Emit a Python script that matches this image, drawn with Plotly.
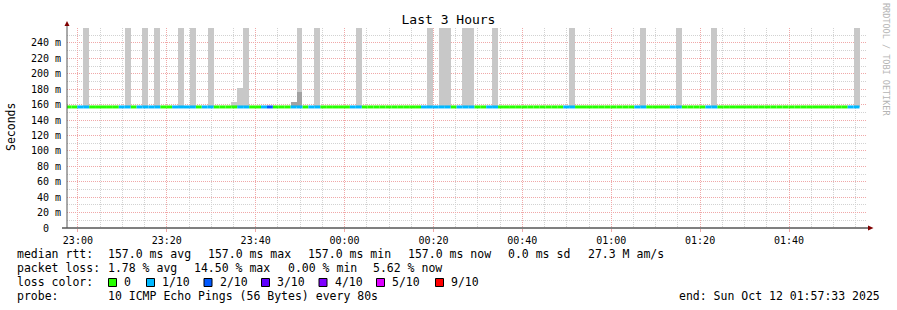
import plotly.graph_objects as go
from datetime import datetime, timedelta

# ---------------- data ----------------
TITLE = "Last 3 Hours"
Y_LABEL = "Seconds"
WATERMARK = "RRDTOOL / TOBI OETIKER"
RANGE_START = "2025-10-11 22:57:33"
RANGE_END = "2025-10-12 01:57:33"
FIRST_STEP = "2025-10-11 22:57:12"   # start of the first 80 s step
STEP_S = 80
MEDIAN_RTT = 0.157                    # seconds, median of every step

# lost pings (out of 10) for each 80 s step
LOSS = [
    0, 0, 1, 1, 0, 0, 0, 0, 0, 1,
    1, 0, 1, 1, 1, 1, 0, 0, 1, 1,
    1, 1, 0, 1, 1, 0, 0, 0, 0, 1,
    1, 0, 0, 1, 2, 0, 0, 0, 1, 1,
    0, 1, 1, 0, 0, 0, 0, 0, 1, 1,
    0, 0, 0, 0, 0, 0, 0, 0, 0, 0,
    1, 1, 1, 1, 1, 0, 1, 1, 1, 0,
    0, 1, 1, 0, 0, 0, 0, 0, 0, 0,
    0, 0, 0, 0, 1, 1, 0, 0, 0, 0,
    0, 0, 0, 0, 0, 0, 1, 1, 0, 0,
    0, 0, 1, 1, 0, 0, 0, 0, 1, 1,
    0, 0, 0, 0, 0, 0, 0, 0, 0, 0,
    0, 0, 0, 0, 0, 0, 0, 0, 0, 0,
    0, 0, 1, 1,
]

# smoke (spread of ping rtts), steps with a visible spread
SMOKE_STEPS = [3, 10, 13, 15, 19, 21, 24, 28, 29, 30, 39, 42, 49, 61, 63, 64,
               67, 68, 72, 85, 97, 103, 109, 133]
SMOKE_MAX = [0.30, 0.30, 0.30, 0.30, 0.30, 0.30, 0.30, 0.164, 0.182, 0.30,
             0.30, 0.30, 0.30, 0.30, 0.30, 0.30, 0.30, 0.30, 0.30, 0.30,
             0.30, 0.30, 0.30, 0.30]
DENSE_SMOKE_STEPS = [38, 39]
DENSE_SMOKE_MAX = [0.164, 0.177]

Y_TICKS = [0, 0.02, 0.04, 0.06, 0.08, 0.10, 0.12, 0.14, 0.16, 0.18, 0.20, 0.22, 0.24]
Y_TICK_TEXT = ["0\u00a0\u00a0", "20 m", "40 m", "60 m", "80 m", "100 m", "120 m",
               "140 m", "160 m", "180 m", "200 m", "220 m", "240 m"]

LOSS_LEVELS = [0, 1, 2, 3, 4, 5, 9]
LOSS_LABELS = ["0", "1/10", "2/10", "3/10", "4/10", "5/10", "9/10"]
LOSS_COLORS = ["#26ff00", "#00b8ff", "#0059ff", "#5e00ff", "#7e00ff", "#dd00ff", "#ff0000"]

MEDIAN_STATS = ["157.0 ms avg", "157.0 ms max", "157.0 ms min", "157.0 ms now",
                "0.0 ms sd", "27.3 M am/s"]
LOSS_STATS = ["1.78 % avg", "14.50 % max", "0.00 % min", "5.62 % now"]
PROBE_TEXT = "10 ICMP Echo Pings (56 Bytes) every 80s"
END_TEXT = "end: Sun Oct 12 01:57:33 2025"

# ---------------- layout constants ----------------
W, H = 897, 310
PL, PR, PT, PB = 67, 867, 28, 228     # plot area in pixels
MONO = "DejaVu Sans Mono"
MAJOR_GRID = "#f0a8a8"
MINOR_GRID = "#d2d2d2"
SMOKE_LIGHT = "#c8c8c8"
SMOKE_DARK = "#a2a2a2"


def px(xp):
    return (xp - PL) / (PR - PL)


def py(yp):
    return (PB - yp) / (PB - PT)


t0 = datetime.strptime(FIRST_STEP, "%Y-%m-%d %H:%M:%S")
step = timedelta(seconds=STEP_S)
times = [t0 + i * step for i in range(len(LOSS))]

fig = go.Figure()

# smoke
fig.add_trace(go.Bar(
    x=[times[i] for i in SMOKE_STEPS],
    y=[v - MEDIAN_RTT for v in SMOKE_MAX],
    base=MEDIAN_RTT, width=STEP_S * 1000, offset=0,
    marker=dict(color=SMOKE_LIGHT, line=dict(width=0)),
    hoverinfo="skip", showlegend=False))
fig.add_trace(go.Bar(
    x=[times[i] for i in DENSE_SMOKE_STEPS],
    y=[v - MEDIAN_RTT for v in DENSE_SMOKE_MAX],
    base=MEDIAN_RTT, width=STEP_S * 1000, offset=0,
    marker=dict(color=SMOKE_DARK, line=dict(width=0)),
    hoverinfo="skip", showlegend=False))

# median line coloured by loss
for lvl, col in zip(LOSS_LEVELS, LOSS_COLORS):
    xs, ys = [], []
    for t, l in zip(times, LOSS):
        if l == lvl:
            xs += [t, t + step, None]
            ys += [MEDIAN_RTT, MEDIAN_RTT, None]
    if xs:
        fig.add_trace(go.Scatter(x=xs, y=ys, mode="lines",
                                 line=dict(color=col, width=3),
                                 hoverinfo="skip", showlegend=False))

shapes = []
# axes
shapes.append(dict(type="line", xref="paper", yref="paper",
                   x0=px(62), x1=px(868), y0=0, y1=0,
                   line=dict(color="#000000", width=1)))
shapes.append(dict(type="line", xref="paper", yref="paper",
                   x0=0, x1=0, y0=0, y1=py(24),
                   line=dict(color="#555555", width=1)))
shapes.append(dict(type="path", xref="paper", yref="paper",
                   path=f"M {px(64.5)} {py(26)} L {px(69.5)} {py(26)} L {px(67)} {py(21)} Z",
                   fillcolor="#7f0000", line=dict(width=0)))
shapes.append(dict(type="path", xref="paper", yref="paper",
                   path=f"M {px(868)} {py(225.5)} L {px(868)} {py(230.5)} L {px(873.5)} {py(228)} Z",
                   fillcolor="#7f0000", line=dict(width=0)))

annotations = []


def ann(text, xp, yp, size=11.5, xanchor="left", color="#000000", angle=0):
    annotations.append(dict(text=text, x=px(xp), y=py(yp), xref="paper", yref="paper",
                            xanchor=xanchor, yanchor="middle", showarrow=False,
                            borderpad=0, textangle=angle,
                            font=dict(family=MONO, size=size, color=color)))


ann(Y_LABEL, 11, 127, size=11.5, xanchor="center", angle=-90)
ann(WATERMARK, 886, 59, size=8.5, xanchor="center", color="#b4b4b4", angle=90)

# legend rows
ROW_Y = [254.3, 268.3, 282.3, 296.3]
ann("median rtt:", 16, ROW_Y[0])
for txt, xp in zip(MEDIAN_STATS, [107.3, 207.3, 307.3, 407.3, 506.7, 586.7]):
    ann(txt, xp, ROW_Y[0])
ann("packet loss:", 16, ROW_Y[1])
for txt, xp in zip(LOSS_STATS, [107.3, 193.3, 286.7, 372.3]):
    ann(txt, xp, ROW_Y[1])
ann("loss color:", 16, ROW_Y[2])
BOX_X = [108, 146, 203.5, 261, 318.5, 376, 435]
for lab, col, bx in zip(LOSS_LABELS, LOSS_COLORS, BOX_X):
    shapes.append(dict(type="rect", xref="paper", yref="paper",
                       x0=px(bx + 0.5), x1=px(bx + 8.5), y0=py(278.5), y1=py(286.5),
                       fillcolor=col, line=dict(color="#000000", width=1)))
    ann(lab, bx + 15, ROW_Y[2])
ann("probe:", 16, ROW_Y[3])
ann(PROBE_TEXT, 107.3, ROW_Y[3])
ann(END_TEXT, 881, ROW_Y[3], xanchor="right")

grid_dash = "1px,1px"
fig.update_layout(
    width=W, height=H, autosize=False,
    margin=dict(l=PL, r=W - PR, t=PT, b=H - PB, pad=0),
    paper_bgcolor="#ffffff", plot_bgcolor="#ffffff",
    barmode="overlay", bargap=0,
    showlegend=False,
    title=dict(text=TITLE, x=0.5, xref="container", xanchor="center",
               y=1 - 19 / H, yref="container", yanchor="middle",
               font=dict(family=MONO, size=13, color="#000000")),
    xaxis=dict(type="date", range=[RANGE_START, RANGE_END],
               tickmode="linear", tick0="2025-10-11 23:00:00", dtick=20 * 60 * 1000,
               tickformat="%H:%M", showgrid=True, gridcolor=MAJOR_GRID, griddash=grid_dash,
               gridwidth=1, zeroline=False, showline=False,
               ticks="outside", ticklen=3, tickcolor=MAJOR_GRID,
               tickfont=dict(family=MONO, size=10, color="#000000"),
               minor=dict(tick0="2025-10-11 23:00:00", dtick=5 * 60 * 1000, showgrid=True,
                          gridcolor=MINOR_GRID, griddash=grid_dash, gridwidth=1)),
    yaxis=dict(range=[0, 0.2594], tickmode="array", tickvals=Y_TICKS, ticktext=Y_TICK_TEXT,
               showgrid=True, gridcolor=MAJOR_GRID, griddash=grid_dash, gridwidth=1,
               zeroline=False, showline=False, ticks="", ticklabelstandoff=5,
               tickfont=dict(family=MONO, size=10, color="#000000"),
               minor=dict(tick0=0, dtick=0.01, showgrid=True,
                          gridcolor=MINOR_GRID, griddash=grid_dash, gridwidth=1)),
    shapes=shapes,
    annotations=annotations,
)

fig.write_html("out.html")
